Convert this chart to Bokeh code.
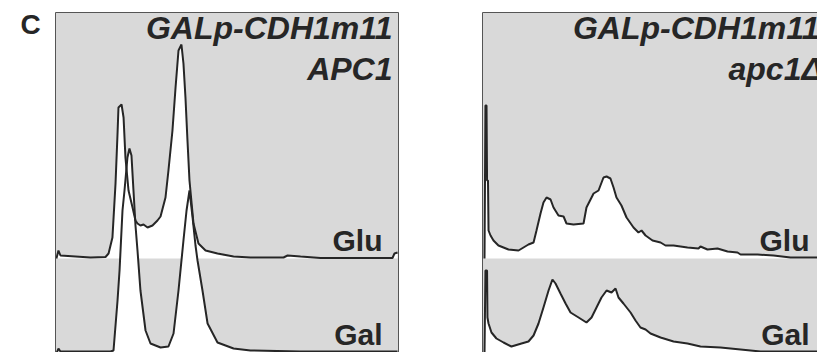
from bokeh.plotting import figure
from bokeh.layouts import row
from bokeh.models import Range1d, LinearAxis, FixedTicker, Label
from bokeh.embed import file_html
from bokeh.resources import INLINE

# ---------------- data (DNA content histograms, channel vs. cell count) ----------------
# Left panel: GALp-CDH1m11 APC1
apc1_glu_ch = [0.7, 2.2, 3.7, 14.9, 26.1, 37.3, 39.6, 42.5, 44.8, 46.3, 47.0, 49.3, 50.8, 52.2,
               54.5, 57.5, 59.7, 61.2, 63.4, 65.7, 68.7, 72.4, 76.1, 78.4, 82.1, 84.3, 87.3,
               89.6, 91.8, 94.0, 95.5, 97.0, 98.5, 100.0, 103.0, 106.7, 112.0, 120.9, 132.9,
               145.5, 170.2, 173.2, 182.9, 197.8, 227.6, 251.5, 253.0, 255.3]
apc1_glu_ct = [0, 16, 6, 4, 2, 3, 10, 42, 150, 250, 302, 308, 282, 202,
               136, 102, 76, 70, 66, 68, 62, 66, 76, 84, 122, 176, 256,
               342, 416, 428, 390, 322, 236, 156, 70, 30, 16, 10, 4,
               2, 2, 6, 4, 1, 1, 1, 10, 12]

apc1_gal_ch = [0.7, 2.2, 3.7, 26.1, 41.1, 43.3, 46.3, 47.8, 50.0, 51.5, 53.7, 55.2, 56.7,
               58.2, 59.7, 61.2, 63.4, 67.2, 70.9, 78.4, 84.3, 88.1, 91.8, 95.5, 97.8,
               100.0, 102.3, 104.5, 106.0, 109.7, 113.5, 120.9, 132.9, 145.5, 182.9,
               220.2, 255.3]
apc1_gal_ct = [0, 10, 4, 4, 4, 6, 106, 166, 286, 326, 392, 410, 396,
               326, 256, 206, 126, 46, 20, 12, 14, 40, 126, 226, 286,
               326, 272, 216, 186, 126, 60, 22, 10, 6, 4,
               4, 4]

# Right panel: GALp-CDH1m11 apc1Δ
apc1d_glu_ch = [1.5, 2.2, 3.0, 3.4, 4.1, 4.5, 6.0, 8.2, 11.9, 19.4, 26.9, 30.6, 34.3, 38.1,
                40.3, 43.3, 45.5, 47.8, 50.8, 53.0, 56.7, 60.5, 62.7, 67.9, 75.4, 77.6,
                82.9, 86.6, 90.3, 92.6, 95.5, 97.8, 100.0, 103.7, 107.5, 112.7, 116.4,
                118.7, 121.7, 126.9, 132.9, 136.6, 142.6, 153.0, 161.2, 162.7, 167.9,
                175.4, 182.9, 190.3, 192.6, 205.3, 217.2, 229.9, 242.6, 250.0]
apc1d_glu_ct = [0, 306, 306, 156, 156, 56, 46, 36, 26, 18, 16, 22, 28, 32,
                56, 90, 112, 122, 118, 102, 86, 84, 70, 68, 70, 102,
                130, 136, 162, 164, 160, 142, 122, 106, 82, 62, 52,
                56, 46, 36, 32, 26, 26, 22, 20, 24, 18,
                20, 14, 12, 8, 8, 6, 2, 2, 2]

apc1d_gal_ch = [1.5, 2.2, 3.4, 3.7, 4.5, 6.7, 10.4, 15.7, 21.6, 29.1, 34.3, 38.1, 41.8,
                45.5, 49.3, 52.2, 54.5, 58.2, 62.0, 65.7, 71.7, 77.6, 81.4, 85.1, 88.8,
                92.6, 96.3, 99.3, 101.5, 105.2, 110.5, 114.2, 117.9, 121.7, 125.4, 132.9,
                142.6, 153.0, 162.7, 177.6, 192.6, 207.5, 237.4, 250.0]
apc1d_gal_ct = [0, 166, 166, 72, 60, 42, 30, 22, 14, 20, 24, 36, 60,
                92, 126, 148, 140, 120, 100, 82, 72, 62, 72, 92, 112,
                126, 122, 130, 112, 100, 82, 66, 52, 48, 40, 32,
                24, 20, 14, 12, 8, 4, 4, 4]

panel_label = "C"
strain = "GALp-CDH1m11"
genotypes = ["APC1", "apc1Δ"]
media = ["Glu", "Gal"]

# ---------------- styling / layout ----------------
GLU_BASE = 190          # vertical offset of the Glu histogram (counts)
BG = "#d9d9d9"
INK = "#262626"
FRAME = "#555555"
FONT = "Liberation Sans"
H = 352


def base_fig(width, b_left, b_right, x_end):
    p = figure(width=width, height=H, x_range=Range1d(0, x_end), y_range=Range1d(2, 682),
               x_axis_type=None, y_axis_type=None, output_backend="svg",
               toolbar_location=None, min_border_left=b_left, min_border_right=b_right,
               min_border_top=12, min_border_bottom=0)
    p.border_fill_color = "white"
    p.outline_line_color = None
    return p


def lab(p, x, y, text, size, style, align="right"):
    p.add_layout(Label(x=x, y=y, x_units="screen", y_units="screen", text=text,
                       text_align=align, text_baseline="alphabetic",
                       text_font=FONT, text_font_size=size, text_font_style=style,
                       text_color=INK))


def make_panel(width, b_left, b_right, x_end, glu_ch, glu_ct, gal_ch, gal_ct, genotype,
               right_edge=True):
    p = base_fig(width, b_left, b_right, x_end)
    p.background_fill_color = BG

    glu_top = [GLU_BASE + c for c in glu_ct]
    p.varea(x=glu_ch, y1=GLU_BASE, y2=glu_top, fill_color="white")
    p.varea(x=gal_ch, y1=0, y2=gal_ct, fill_color="white")
    p.line(glu_ch, glu_top, line_color=INK, line_width=2)
    p.line(gal_ch, gal_ct, line_color=INK, line_width=2)

    locs = ["left", "above"] + (["right"] if right_edge else [])
    for loc in locs:
        ax = LinearAxis(ticker=FixedTicker(ticks=[]), major_tick_out=0, major_tick_in=0,
                        minor_tick_out=0, minor_tick_in=0, major_label_standoff=0,
                        major_label_text_font_size="0px", axis_line_color=FRAME,
                        axis_line_width=1)
        p.add_layout(ax, loc)

    lab(p, 337, 325, strain, "32px", "bold italic")
    if right_edge:
        lab(p, 337, 284, genotype, "32px", "bold italic")
    else:
        lab(p, 246, 284, genotype, "32px", "bold italic", align="left")
    lab(p, 327, 112, media[0], "30px", "bold")
    lab(p, 327, 18, media[1], "30px", "bold")
    return p


# panel letter on its own narrow canvas
p0 = base_fig(55, 0, 0, 1)
p0.min_border_top = 0
p0.background_fill_color = "white"
lab(p0, 20, 328, panel_label, "28px", "bold", align="left")

p1 = make_panel(373, 0, 30, 256, apc1_glu_ch, apc1_glu_ct, apc1_gal_ch, apc1_gal_ct,
                genotypes[0], right_edge=True)
p2 = make_panel(389, 54, 0, 335 * 256 / 343, apc1d_glu_ch, apc1d_glu_ct, apc1d_gal_ch,
                apc1d_gal_ct, genotypes[1], right_edge=False)

layout = row(p0, p1, p2)
open("out.html", "w").write(file_html(layout, INLINE))
